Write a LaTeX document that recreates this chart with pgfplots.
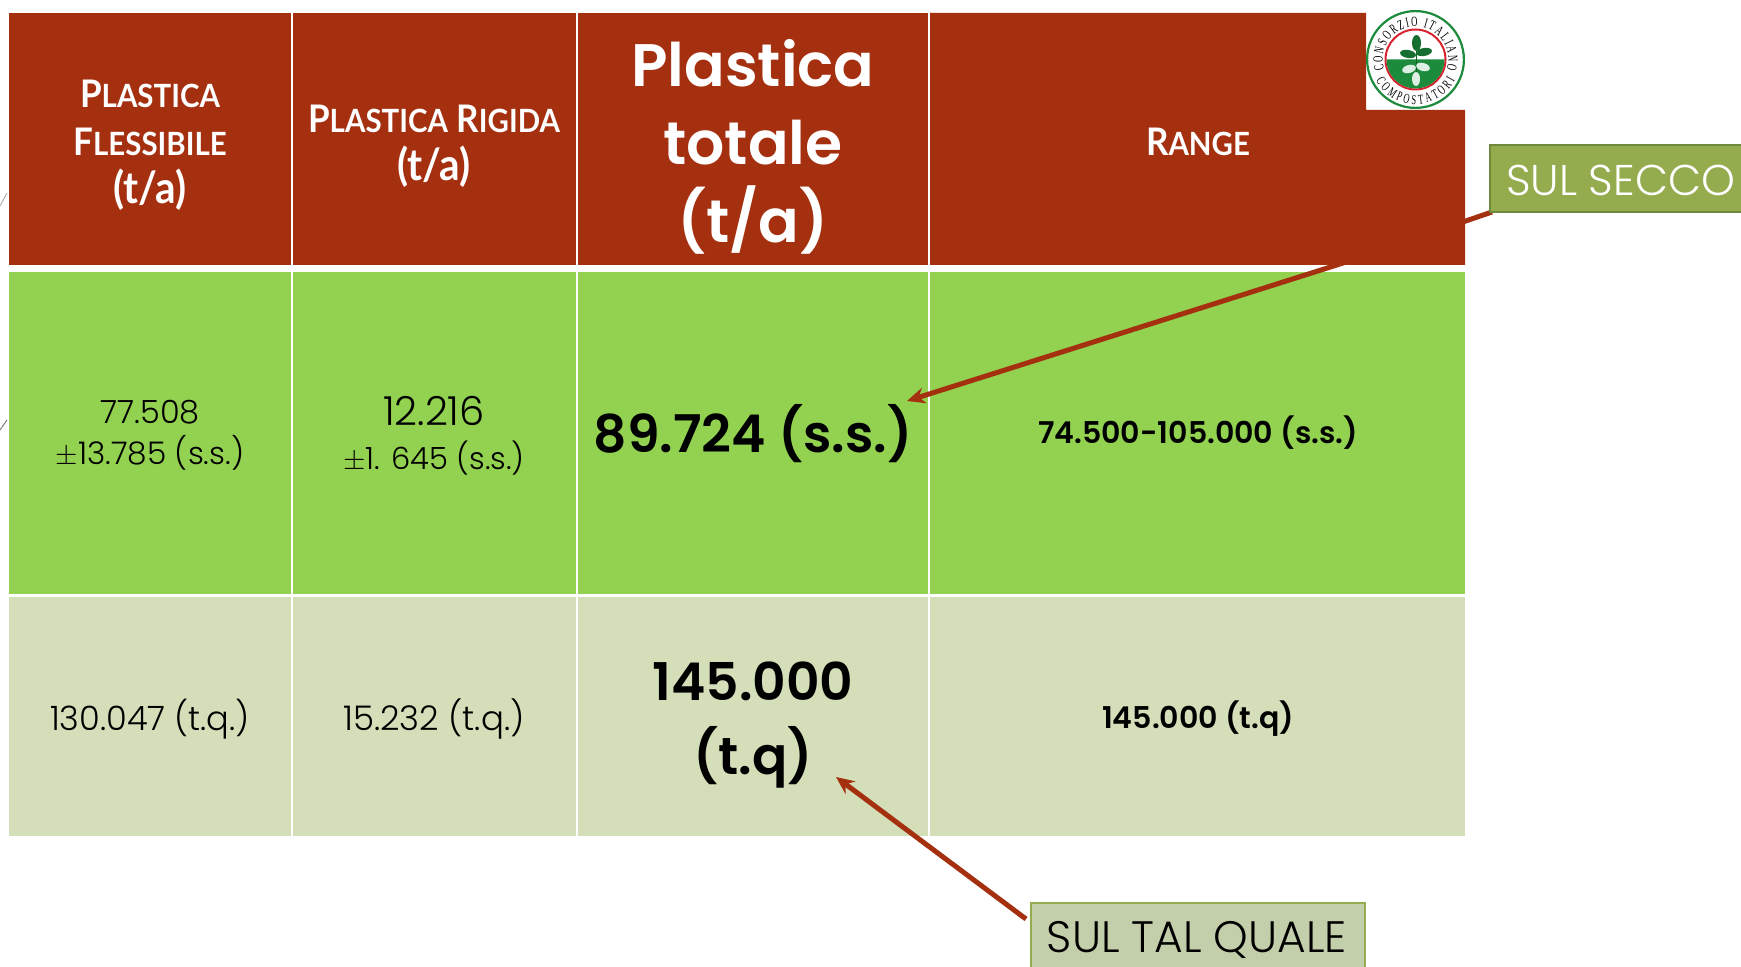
\documentclass[border=0pt]{standalone}
\usepackage{pgfplots}
\pgfplotsset{compat=1.18}
\usepackage{fontspec}
\usetikzlibrary{arrows.meta,decorations.text,shapes.geometric}
\setmainfont{Poppins}[UprightFont=* Light,BoldFont=* SemiBold]
\newfontfamily\headfont{Lato}[BoldFont=* Bold,FakeStretch=0.92]
\newfontfamily\logofont{Liberation Serif}[FakeStretch=0.62]
\definecolor{hdr}{HTML}{A5300F}
\definecolor{lime}{HTML}{92D250}
\definecolor{tan}{HTML}{D4DEB8}
\definecolor{olive}{HTML}{94AB4E}
\definecolor{olivedark}{HTML}{6F8A3C}
\definecolor{sage}{HTML}{C3CFAA}
\definecolor{logogreen}{HTML}{1C8B3C}
\definecolor{logored}{HTML}{D8232F}
\newcommand{\fs}[1]{\fontsize{#1}{#1}\selectfont}
% one data unit is one pixel of the reference
\begin{document}
\begin{tikzpicture}
\path[use as bounding box] (0,0) rectangle (870.5pt,483.5pt);
\begin{axis}[
    at={(0,0)}, anchor=south west,
    scale only axis,
    width=870.5pt, height=483.5pt,
    xmin=0, xmax=1741, ymin=0, ymax=967,
    y dir=reverse,
    hide axis,
]
% arrows behind the table
\addplot[hdr, line width=2.5pt] coordinates {(1492,212) (1340,264)};
\addplot[gray!60, line width=0.5pt] coordinates {(0,206) (7,193)};
\addplot[gray, line width=0.5pt] coordinates {(0,430) (7,420)};
% header cells
\addplot[fill=hdr, draw=none] coordinates {(9,13) (291,13) (291,265) (9,265)} -- cycle;
\addplot[fill=hdr, draw=none] coordinates {(293,13) (576,13) (576,265) (293,265)} -- cycle;
\addplot[fill=hdr, draw=none] coordinates {(578,13) (928,13) (928,265) (578,265)} -- cycle;
\addplot[fill=hdr, draw=none] coordinates {(930,13) (1366,13) (1366,110) (1465,110) (1465,265) (930,265)} -- cycle;
% green row
\addplot[fill=lime, draw=none] coordinates {(9,272) (291,272) (291,594) (9,594)} -- cycle;
\addplot[fill=lime, draw=none] coordinates {(293,272) (576,272) (576,594) (293,594)} -- cycle;
\addplot[fill=lime, draw=none] coordinates {(578,272) (928,272) (928,594) (578,594)} -- cycle;
\addplot[fill=lime, draw=none] coordinates {(930,272) (1465,272) (1465,594) (930,594)} -- cycle;
% tan row
\addplot[fill=tan, draw=none] coordinates {(9,597) (291,597) (291,836) (9,836)} -- cycle;
\addplot[fill=tan, draw=none] coordinates {(293,597) (576,597) (576,836) (293,836)} -- cycle;
\addplot[fill=tan, draw=none] coordinates {(578,597) (928,597) (928,836) (578,836)} -- cycle;
\addplot[fill=tan, draw=none] coordinates {(930,597) (1465,597) (1465,836) (930,836)} -- cycle;
% callouts
\addplot[hdr, line width=2.5pt, -{Stealth[length=9pt,width=8pt]}] coordinates {(1340,264) (907,401)};
\addplot[hdr, line width=2.5pt, -{Stealth[length=9pt,width=8pt]}] coordinates {(1026,919) (836,777)};
\addplot[fill=olive, draw=olivedark, line width=1pt] coordinates {(1490,145) (1745,145) (1745,212) (1490,212)} -- cycle;
\addplot[fill=sage, draw=olive, line width=1pt] coordinates {(1031,903) (1365,903) (1365,970) (1031,970)} -- cycle;
\node[white, anchor=west, font=\fs{21.5}] at (axis cs:1499,180) {SUL SECCO};
\node[black, font=\fs{22}] at (axis cs:1197,940) {SUL TAL QUALE};
% header text
\node[white, align=center, font=\headfont\bfseries\fontsize{19}{24}\selectfont] at (axis cs:150,145) {P{\fs{16}LASTICA}\\F{\fs{16}LESSIBILE}\\{\fs{22}(t/a)}};
\node[white, align=center, font=\headfont\bfseries\fontsize{19}{24}\selectfont] at (axis cs:434,146) {P{\fs{16}LASTICA} R{\fs{16}IGIDA}\\{\fs{22}(t/a)}};
\node[white, align=center, font=\bfseries\fontsize{30}{39}\selectfont] at (axis cs:753,147) {Plastica\\totale\\(t/a)};
\node[white, font=\headfont\bfseries\fs{19}] at (axis cs:1198,142) {R{\fs{16}ANGE}};
% first row
\node[align=center, font=\fontsize{15.6}{20.5}\selectfont] at (axis cs:150,435) {{\fs{16}77.508}\\$\pm$13.785 (s.s.)};
\node[align=center, font=\fontsize{15.3}{22}\selectfont] at (axis cs:434,436) {{\fs{20}12.216}\\$\pm$1. 645 (s.s.)};
\node[font=\bfseries\fs{26}] at (axis cs:753,434) {89.724 (s.s.)};
\node[font=\bfseries\fs{15}] at (axis cs:1198,433) {74.500-105.000 (s.s.)};
% second row
\node[font=\fs{16.8}] at (axis cs:150,719) {130.047 (t.q.)};
\node[font=\fs{17}] at (axis cs:434,719) {15.232 (t.q.)};
\node[align=center, font=\bfseries\fontsize{26}{37}\selectfont] at (axis cs:753,725) {145.000\\(t.q)};
\node[font=\bfseries\fs{15}] at (axis cs:1198,719) {145.000 (t.q)};
% logo
\coordinate (L) at (axis cs:1415.5,59.5);
\draw[logogreen, fill=white, line width=1.1pt] (L) circle[radius=24.2pt];
\draw[logored, fill=white, line width=1pt] (L) circle[radius=15pt];
\fill[logogreen] (L) ++(180:14.5pt) arc[start angle=180, end angle=360, radius=14.5pt] -- cycle;
\draw[decorate, decoration={text along path, text align={fit to path},
    text={|\logofont\fontsize{7}{8}\selectfont|CONSORZIO ITALIANO}}]
    (L) ++(198:16.4pt) arc[start angle=198, end angle=-18, radius=16.4pt];
\draw[decorate, decoration={text along path, text align={fit to path},
    text={|\logofont\fontsize{6.8}{8}\selectfont|COMPOSTATORI}}]
    (L) ++(208:22.4pt) arc[start angle=208, end angle=332, radius=22.4pt];
\draw[logogreen!70!black, line width=0.4pt] (axis cs:1416,38) -- (axis cs:1416,85);
\node[ellipse, fill=logogreen!80!black, inner sep=0, minimum width=4.5pt, minimum height=8pt] at (axis cs:1416.5,43) {};
\node[ellipse, fill=logogreen!80!black, inner sep=0, minimum width=8pt, minimum height=4pt, rotate=-10] at (axis cs:1408,54) {};
\node[ellipse, fill=logogreen!80!black, inner sep=0, minimum width=8pt, minimum height=4pt, rotate=10] at (axis cs:1424,52) {};
\node[ellipse, fill=white!85!logogreen, inner sep=0, minimum width=7pt, minimum height=4pt, rotate=15] at (axis cs:1409,69) {};
\node[ellipse, fill=white!85!logogreen, inner sep=0, minimum width=7pt, minimum height=4pt, rotate=-15] at (axis cs:1423,67) {};
\node[ellipse, fill=white!85!logogreen, inner sep=0, minimum width=4pt, minimum height=7pt] at (axis cs:1416,79) {};
\end{axis}
\end{tikzpicture}
\end{document}
